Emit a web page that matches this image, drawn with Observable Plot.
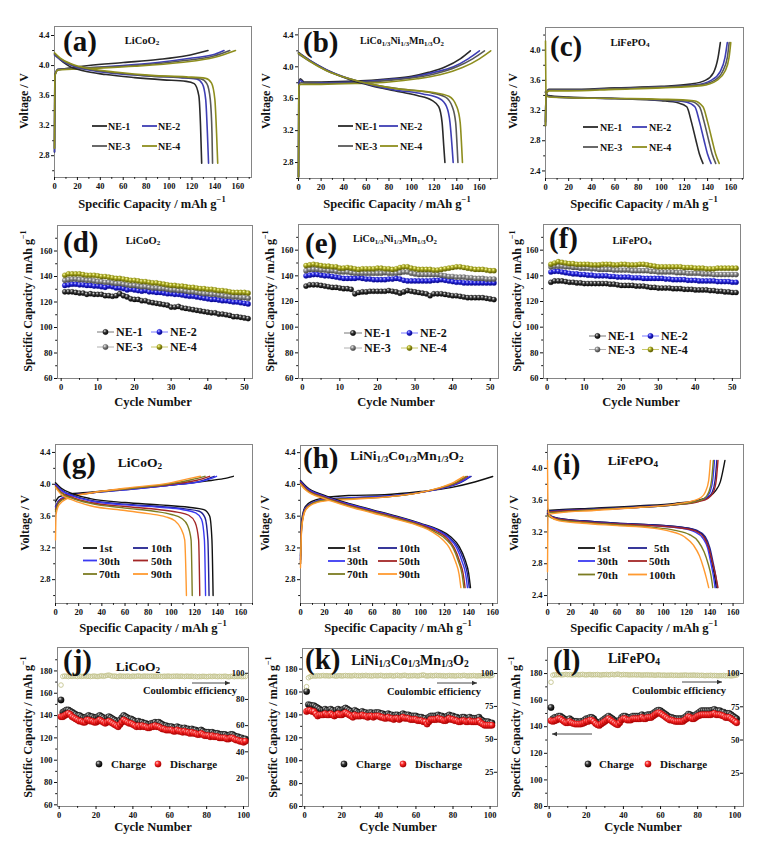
<!DOCTYPE html>
<html><head><meta charset="utf-8">
<script src="https://cdn.jsdelivr.net/npm/d3@7"></script>
<script src="https://cdn.jsdelivr.net/npm/@observablehq/plot@0.6"></script>
<style>
html,body{margin:0;padding:0;background:#fff;}
#root{position:relative;width:759px;height:848px;overflow:hidden;background:#fff;}
#root svg{position:absolute;}
</style></head><body><div id="root"></div>
<script>
// ---------------- DATA ----------------
const NE_LABELS = ["NE-1","NE-2","NE-3","NE-4"];
const G_LABELS = ["1st","10th","30th","50th","70th","90th"];
const I_LABELS = ["1st","5th","30th","50th","70th","100th"];
const VOLT_TICKS_A = [2.8,3.2,3.6,4.0,4.4];
const VOLT_TICKS_C = [2.4,2.8,3.2,3.6,4.0];
const CAP_TICKS = [0,20,40,60,80,100,120,140,160];
const CYC50_TICKS = [0,10,20,30,40,50];
const CYC100_TICKS = [0,20,40,60,80,100];
const SPEC_TICKS = [60,80,100,120,140,160];
const SPEC_TICKS_J = [60,80,100,120,140,160,180];
const SPEC_TICKS_L = [80,100,120,140,160,180];
const CE_TICKS_J = [20,40,60,80,100];
const CE_TICKS_KL = [25,50,75,100];

// (a) LiCoO2 voltage profiles [capacity, voltage]
const a_ch_NE1 = [[0,2.85],[0.3,3.86],[3,3.94],[10,3.96],[30,4.0],[60,4.04],[90,4.08],[115,4.13],[134,4.2]];
const a_ch_NE2 = [[0,2.85],[0.3,3.87],[3,3.95],[20,3.96],[50,3.99],[90,4.04],[120,4.1],[140,4.15],[148,4.2]];
const a_ch_NE3 = [[0,2.9],[0.3,3.87],[3,3.95],[30,3.97],[70,4.0],[110,4.06],[140,4.13],[153,4.2]];
const a_ch_NE4 = [[0,2.9],[0.3,3.86],[3,3.94],[30,3.96],[70,3.99],[110,4.04],[140,4.11],[158,4.2]];
const a_dis_NE1 = [[0,4.16],[5,4.08],[12,4.0],[25,3.93],[45,3.88],[70,3.84],[95,3.81],[115,3.79],[122,3.76],[126,3.6],[127.5,3.2],[128.5,2.7]];
const a_dis_NE2 = [[0,4.14],[5,4.08],[15,4.0],[30,3.94],[55,3.89],[85,3.86],[110,3.84],[124,3.82],[129,3.76],[132,3.55],[133.5,3.1],[134.5,2.7]];
const a_dis_NE3 = [[0,4.15],[5,4.09],[15,4.01],[30,3.95],[55,3.9],[85,3.86],[115,3.84],[128,3.82],[133,3.76],[136,3.55],[137.5,3.1],[138,2.7]];
const a_dis_NE4 = [[0,4.17],[5,4.1],[15,4.02],[30,3.96],[55,3.91],[85,3.87],[115,3.85],[132,3.83],[137,3.77],[140,3.55],[141.5,3.1],[142.5,2.7]];

// (b) LiCo1/3Ni1/3Mn1/3O2
const b_ch_NE1 = [[0,2.62],[0.3,3.78],[1.5,3.85],[5,3.81],[20,3.81],[50,3.82],[80,3.85],[100,3.88],[115,3.93],[130,4.0],[143,4.1],[152,4.2]];
const b_ch_NE2 = [[0,2.62],[0.3,3.78],[1.5,3.83],[5,3.8],[20,3.8],[50,3.81],[80,3.84],[100,3.87],[120,3.93],[137,4.0],[150,4.1],[160,4.2]];
const b_ch_NE3 = [[0,2.62],[0.3,3.77],[2,3.8],[20,3.79],[50,3.8],[80,3.83],[100,3.86],[120,3.91],[140,4.0],[154,4.1],[164.5,4.2]];
const b_ch_NE4 = [[0,2.62],[0.3,3.76],[2,3.78],[20,3.78],[50,3.79],[80,3.81],[105,3.85],[125,3.9],[145,3.99],[160,4.1],[170,4.2]];
const b_dis_NE1 = [[0,4.18],[10,4.08],[25,3.96],[45,3.84],[65,3.76],[85,3.7],[105,3.64],[118,3.58],[124,3.5],[127,3.3],[128.5,3.0],[129.5,2.8]];
const b_dis_NE2 = [[0,4.17],[10,4.08],[25,3.96],[45,3.85],[65,3.77],[85,3.71],[110,3.66],[125,3.6],[131,3.5],[134,3.3],[135.8,3.0],[136.8,2.8]];
const b_dis_NE3 = [[0,4.16],[10,4.07],[25,3.95],[45,3.85],[65,3.78],[90,3.72],[115,3.68],[130,3.62],[136,3.5],[139,3.3],[140.3,3.0],[141,2.8]];
const b_dis_NE4 = [[0,4.17],[10,4.07],[25,3.95],[45,3.85],[65,3.78],[90,3.72],[118,3.68],[133,3.63],[140,3.5],[143,3.3],[144.3,3.0],[145,2.8]];

// (c) LiFePO4
const c_ch_NE1 = [[0,3.05],[0.5,3.42],[3,3.48],[20,3.48],[60,3.5],[100,3.52],[125,3.55],[138,3.6],[145,3.7],[149,3.9],[151,4.1]];
const c_ch_NE2 = [[0,3.0],[0.5,3.42],[3,3.47],[20,3.47],[60,3.49],[100,3.51],[130,3.54],[143,3.6],[151,3.72],[155,3.9],[157,4.1]];
const c_ch_NE3 = [[0,3.0],[0.5,3.42],[3,3.47],[20,3.47],[60,3.49],[100,3.51],[133,3.54],[146,3.6],[153,3.72],[157,3.9],[158.6,4.1]];
const c_ch_NE4 = [[0,3.0],[0.5,3.42],[3,3.46],[20,3.46],[60,3.48],[100,3.5],[135,3.53],[148,3.6],[155,3.72],[158.5,3.9],[160,4.1]];
const c_dis_NE1 = [[0,3.45],[2,3.4],[20,3.38],[60,3.36],[100,3.33],[115,3.3],[122,3.25],[126,3.05],[130,2.8],[133,2.62],[136,2.5]];
const c_dis_NE2 = [[0,3.44],[2,3.39],[20,3.37],[60,3.36],[100,3.34],[122,3.31],[129,3.25],[133,3.05],[137,2.8],[140,2.62],[143,2.5]];
const c_dis_NE3 = [[0,3.44],[2,3.39],[20,3.37],[60,3.36],[100,3.34],[126,3.32],[133,3.25],[137,3.05],[141,2.8],[144,2.62],[147,2.5]];
const c_dis_NE4 = [[0,4.12],[0.5,3.4],[3,3.38],[20,3.37],[60,3.36],[100,3.35],[128,3.33],[136,3.25],[140,3.05],[144,2.8],[147,2.62],[150,2.5]];

// (d) LiCoO2 cycling, cycles 1..51
const d_NE1 = [128,128,128,127.5,127,127,126,126.5,126,126,126,125,125,124.5,125,126.5,125,124,122.5,122,122,121,121,120,119.5,119,118.5,118,117.5,116,116,116.5,115.5,115,114.5,114,113.5,113,112.5,112,111.5,111.5,110.5,110.5,110,109.5,108.5,108.5,108,107.5,107];
const d_NE2 = [133,133.5,134,134,133.5,133.5,133,133,132.5,132.5,132,131.5,132.5,132,131,131,130.5,129.5,130,129.5,129,128.5,129,128,128,127.5,127.5,127,126.5,126.5,126,126,125.5,125,124.5,124.5,124,123.5,123,122.5,122,122,121.5,121,121,120.5,120,120,119.5,119,118.5];
const d_NE3 = [137,137.5,138,138,137.5,137.5,137,137,136.5,136,136,135.5,135.5,135,134.5,134.5,134,133.5,133,133,132.5,132,132,131.5,131,131,130.5,130.5,130,129.5,129.5,129,129,128.5,128,128,127.5,127,126.5,126.5,126,126,125.5,125,124.5,124.5,124,124,123.5,123.5,123];
const d_NE4 = [141,142,142,142,142,141.5,141,141,141,140.5,140,140,139.5,139,138.5,138.5,138,137.5,137,137,136.5,136,136,135.5,135,135,134.5,134,133.5,133,133,132.5,132.5,132,131.5,131.5,131,130.5,130.5,130,130,129.5,129,129,128.5,128,127.5,127.5,127.5,127.5,127];

// (e) NCM cycling
const e_NE1 = [132,133,133,133,132.5,132,131.5,131,131,130.5,130,130,129.5,126,127,127.5,127.5,128,128,128,128,128,128.5,128,127.5,126.5,127.5,128.5,128,127.5,127,126.5,126,124.5,126,126,126,125.5,125,124.5,124.5,124,123.5,123,123,123,123,123,122.5,122,121.5];
const e_NE2 = [140,140.5,141,141,140.5,140,140,139.5,139,138.5,138,138,138,138,138.5,138,137.5,137.5,137,137,137,137,137.5,137.5,138,137.5,136.5,136,136,136,136,136,136,136,136.5,136.5,137,136.5,136,135.5,135,135,134.5,134.5,134.5,134.5,134.5,134.5,134.5,134.5,134.5];
const e_NE3 = [144,145,145,145,144.5,144.5,144,144,143.5,143,143,143,142.5,142,142,142,142,142,142,142,142,142.5,142,142,142,142.5,143,143,142,141.5,141,141,141,141,141,141,140.5,140,139.5,139.5,139,139,139,138.5,138.5,138,138,138,137.5,137.5,137.5];
const e_NE4 = [148,148.5,149,148.5,148,147.5,147.5,147,147,146,146,146.5,146,145.5,145,145.5,145.5,145.5,145.5,146,146,145.5,145.5,145,145.5,146.5,147,147,146,145.5,145,145,145,145,144.5,144.5,145,145.5,146,146.5,147,147,146.5,146,145.5,145,145,145,144.5,144,144];

// (f) LiFePO4 cycling
const f_NE1 = [135,136,136,136,135.5,135,135,134.5,134.5,134,134,134,134,134,134,134,133.5,133.5,133,132.5,132.5,132.5,132.5,132,132,132,131.5,131,131,130.5,130.5,130.5,130.5,130,130,130,129.5,129.5,129.5,129,129,129,129,128.5,128.5,128,128,127.5,127.5,127,127];
const f_NE2 = [143,143.5,143.5,143,142.5,142,141.5,141.5,141,141,140.5,140.5,140,140,140,140,139.5,139.5,139,139,139,139,138.5,138.5,138.5,138,138,138,138,138,138,137.5,137.5,137,137,137,137,136.5,136.5,136.5,136,136,136,136,136,135.5,135.5,135.5,135.5,135,135];
const f_NE3 = [147,147.5,147.5,147.5,147,147,146.5,146.5,146,146,146,145.5,145.5,145,145,145,145,144.5,144.5,144.5,144.5,144.5,144,144,144,144,144,143.5,143.5,143,143,143,143,143,142.5,142.5,142.5,142,142,142,142,141.5,141.5,141.5,141,141,141,141,141,141,141];
const f_NE4 = [149,150,151,150.5,150,149.5,149.5,149,149,149,149,148.5,148.5,148.5,149,149,149,148.5,148.5,149,149,148.5,148.5,148.5,149,149,148.5,148,147.5,147,147,147,147,147,147,147,146.5,146.5,146.5,146,146,146,145.5,145.5,145.5,146,146,146,146,146,146];

// (g) LiCoO2 selected cycles
const g_ch_1 = [[0,3.78],[3,3.84],[10,3.87],[30,3.9],[60,3.94],[100,3.99],[130,4.04],[145,4.07],[153.5,4.1]];
const g_ch_10 = [[0,3.72],[3,3.8],[10,3.85],[30,3.89],[60,3.93],[100,3.99],[125,4.04],[137,4.1]];
const g_ch_30 = [[0,3.7],[3,3.79],[10,3.85],[30,3.89],[60,3.93],[100,3.99],[127,4.04],[139,4.1]];
const g_ch_50 = [[0,3.68],[3,3.78],[10,3.84],[30,3.89],[60,3.94],[100,4.0],[122,4.05],[133,4.1]];
const g_ch_70 = [[0,3.66],[3,3.77],[10,3.83],[30,3.89],[60,3.94],[100,4.01],[118,4.06],[129,4.1]];
const g_ch_90 = [[0,3.3],[0.5,3.62],[3,3.74],[10,3.82],[30,3.89],[60,3.95],[100,4.02],[115,4.07],[125,4.1]];
const g_dis_1 = [[0,4.02],[5,3.95],[15,3.88],[30,3.82],[60,3.77],[90,3.74],[115,3.71],[128,3.68],[133,3.6],[135,3.3],[136,2.6]];
const g_dis_10 = [[0,4.0],[5,3.93],[15,3.86],[30,3.8],[60,3.75],[90,3.72],[112,3.69],[124,3.66],[129,3.58],[131.5,3.3],[132.5,2.6]];
const g_dis_30 = [[0,3.99],[5,3.92],[15,3.85],[30,3.79],[60,3.74],[90,3.71],[110,3.68],[121,3.64],[126,3.56],[128.5,3.3],[129.5,2.6]];
const g_dis_50 = [[0,3.98],[5,3.9],[15,3.83],[30,3.77],[60,3.72],[90,3.68],[105,3.65],[115,3.61],[120.5,3.52],[123.5,3.3],[124.5,2.6]];
const g_dis_70 = [[0,3.97],[5,3.89],[15,3.82],[30,3.76],[60,3.7],[85,3.66],[100,3.62],[109,3.57],[114,3.48],[117,3.3],[118,2.6]];
const g_dis_90 = [[0,3.96],[5,3.87],[15,3.8],[30,3.73],[60,3.67],[80,3.63],[95,3.59],[103,3.54],[108,3.45],[111.5,3.3],[113,2.6]];

// (h) LiNi1/3Co1/3Mn1/3O2 selected cycles
const h_ch_1 = [[0,3.1],[1,3.55],[4,3.72],[10,3.79],[20,3.83],[40,3.86],[70,3.87],[100,3.91],[125,3.96],[145,4.03],[160,4.1]];
const h_ch_10 = [[0,3.05],[1,3.5],[4,3.7],[10,3.77],[20,3.81],[40,3.83],[70,3.85],[100,3.9],[120,3.96],[134,4.03],[142,4.1]];
const h_ch_30 = [[0,3.05],[1,3.5],[4,3.7],[10,3.77],[20,3.81],[40,3.83],[70,3.85],[100,3.9],[120,3.96],[133,4.03],[141,4.1]];
const h_ch_50 = [[0,3.0],[1,3.48],[4,3.69],[10,3.76],[20,3.8],[40,3.82],[70,3.84],[100,3.9],[118,3.96],[131,4.03],[139,4.1]];
const h_ch_70 = [[0,3.0],[1,3.47],[4,3.68],[10,3.76],[20,3.8],[40,3.82],[70,3.84],[100,3.9],[117,3.96],[130,4.03],[138,4.1]];
const h_ch_90 = [[0,2.95],[1,3.45],[4,3.67],[10,3.75],[20,3.79],[40,3.81],[70,3.84],[100,3.9],[116,3.96],[128,4.03],[136,4.1]];
const h_dis_1 = [[0,4.05],[5,3.97],[20,3.86],[40,3.76],[60,3.68],[80,3.6],[100,3.51],[115,3.43],[125,3.34],[132,3.22],[137,3.05],[140,2.88],[141.5,2.7]];
const h_dis_10 = [[0,4.04],[5,3.96],[20,3.85],[40,3.75],[60,3.67],[80,3.59],[100,3.5],[115,3.42],[124,3.33],[131,3.21],[136,3.04],[139,2.87],[140.5,2.7]];
const h_dis_30 = [[0,4.03],[5,3.95],[20,3.85],[40,3.75],[60,3.67],[80,3.59],[100,3.5],[114,3.42],[123,3.33],[130,3.2],[134.5,3.03],[137.5,2.87],[139,2.7]];
const h_dis_50 = [[0,4.02],[5,3.94],[20,3.84],[40,3.74],[60,3.66],[80,3.58],[100,3.49],[113,3.41],[122,3.32],[128,3.2],[132.5,3.03],[135.5,2.87],[137,2.7]];
const h_dis_70 = [[0,4.01],[5,3.93],[20,3.83],[40,3.73],[60,3.65],[80,3.57],[100,3.48],[112,3.4],[121,3.31],[127,3.2],[131.5,3.03],[134.5,2.87],[136,2.7]];
const h_dis_90 = [[0,4.0],[5,3.92],[20,3.82],[40,3.72],[60,3.64],[80,3.56],[100,3.47],[110,3.4],[118,3.31],[124,3.2],[129,3.03],[132,2.87],[133.5,2.7]];

// (i) LiFePO4 selected cycles
const i_ch_1 = [[0,3.47],[10,3.48],[40,3.5],[80,3.53],[110,3.56],[130,3.6],[140,3.65],[145,3.72],[149,3.83],[153,4.1]];
const i_ch_5 = [[0,3.46],[10,3.47],[40,3.49],[80,3.52],[110,3.55],[130,3.59],[138,3.63],[142,3.7],[144.5,3.85],[146,4.1]];
const i_ch_30 = [[0,3.45],[10,3.46],[40,3.48],[80,3.51],[110,3.54],[128,3.58],[136,3.62],[140,3.7],[142.5,3.85],[144,4.1]];
const i_ch_50 = [[0,3.45],[10,3.46],[40,3.48],[80,3.51],[110,3.54],[130,3.58],[138,3.62],[143,3.7],[145.5,3.85],[147,4.1]];
const i_ch_70 = [[0,3.44],[10,3.45],[40,3.48],[80,3.51],[110,3.54],[127,3.58],[135,3.62],[139,3.7],[141.5,3.85],[143,4.1]];
const i_ch_100 = [[0,2.7],[0.5,3.4],[2,3.42],[10,3.44],[40,3.47],[80,3.51],[110,3.55],[125,3.59],[132,3.63],[136,3.7],[139,3.85],[140.5,4.1]];
const i_dis_1 = [[0,3.43],[3,3.4],[10,3.37],[30,3.34],[60,3.31],[90,3.29],[115,3.26],[128,3.22],[135,3.14],[139,3.0],[142,2.8],[144,2.65],[145.5,2.5]];
const i_dis_5 = [[0,3.43],[3,3.4],[10,3.37],[30,3.34],[60,3.31],[90,3.29],[116,3.26],[129,3.22],[136,3.14],[140,3.0],[143,2.8],[145,2.65],[146.5,2.5]];
const i_dis_30 = [[0,3.42],[3,3.39],[10,3.36],[30,3.33],[60,3.3],[90,3.28],[114,3.25],[127,3.2],[134,3.12],[138,3.0],[141,2.8],[143,2.65],[144.5,2.5]];
const i_dis_50 = [[0,3.42],[3,3.39],[10,3.36],[30,3.33],[60,3.3],[90,3.28],[115,3.25],[128,3.21],[135,3.13],[139,3.0],[142.5,2.8],[145,2.65],[147,2.5]];
const i_dis_70 = [[0,3.41],[3,3.38],[10,3.35],[30,3.32],[60,3.29],[90,3.26],[110,3.22],[122,3.17],[130,3.08],[135,2.95],[138.5,2.8],[141,2.65],[142.5,2.5]];
const i_dis_100 = [[0,4.1],[0.5,3.5],[2,3.4],[10,3.34],[30,3.31],[60,3.28],[90,3.25],[105,3.21],[118,3.14],[126,3.03],[131,2.9],[134.5,2.75],[137,2.62],[139,2.5]];

// (j) LiCoO2 long cycling, cycles 1..101
const j_charge = [154,143,144,145,145,144,143,142,141,140,140,139,138,138,139,140,139,139,138,138,139,140,139,138,137,138,139,138,137,136,135,134,136,138,140,139,138,137,137,136,135,134,135,134,134,133,133,132,132,133,133,134,133,134,133,132,131,131,130,130,130,129,129,130,129,129,128,129,128,128,127,128,127,127,126,126,127,126,125,125,125,124,125,124,124,124,123,123,123,123,122,122,123,123,122,121,121,120,120,119,119];
const j_discharge = [139,139,140,141,142,141,139,138,137,136,135,135,134,134,136,136,135,135,134,134,135,136,135,134,133,134,135,134,133,132,131,130,132,134,136,135,134,133,133,132,131,130,131,130,131,130,130,129,129,130,130,131,130,130,129,128,128,127,127,127,127,126,126,127,126,126,125,126,125,125,124,125,124,124,123,123,124,123,122,122,122,121,122,121,121,121,120,120,120,120,119,119,120,120,119,118,118,117,117,116,117];
const j_ce = [91.0,97.6,97.9,97.7,97.5,97.8,97.6,97.9,97.7,97.5,97.8,97.6,97.7,98.0,97.6,97.8,97.5,97.7,97.9,97.6,97.5,97.8,98.1,97.7,98.0,98.4,98.6,98.1,97.7,97.9,97.6,97.5,98.0,97.7,97.8,97.6,97.9,97.7,97.5,97.9,97.6,97.8,98.0,97.7,97.6,97.9,97.7,97.8,97.6,97.9,97.7,97.8,97.6,97.9,97.7,97.5,97.8,97.6,97.9,97.7,97.6,97.8,97.7,97.9,97.6,97.8,97.7,97.5,97.8,97.7,97.6,97.8,97.4,97.7,97.3,97.6,97.5,97.7,97.6,97.4,97.6,97.7,97.5,97.8,97.6,97.4,97.7,97.5,97.6,97.8,97.5,97.3,97.6,97.7,97.4,97.6,97.5,97.7,97.4,97.6,97.5];

// (k) NCM long cycling
const k_charge = [160.5,149,148.5,148,148,147,146,145,144,144,145,144,144,145,144,143,144,145,144,144,145,146,145,144,143,142,144,143,142,142,143,142,142,141,142,142,141,142,142,142,141,141,140,140,141,140,140,139,140,140,139,140,141,140,140,140,139,139,139,139,138,138,138,137,137,136,138,139,139,139,139,140,139,139,138,138,139,140,139,139,138,138,137,137,138,138,137,137,138,137,137,137,137,138,136,135,134,134,134,133,133];
const k_discharge = [143,144,144,143,143,141,139,140,140,140,141,140,140,141,140,139,140,141,140,140,141,142,141,140,139,138,140,139,139,139,140,139,139,138,139,139,138,139,139,139,138,138,137,137,138,137,137,136,137,137,136,137,138,137,137,137,136,136,136,136,135,135,135,134,134,132,134,136,136,136,136,137,136,136,135,135,136,137,136,136,135,135,134,134,135,135,134,134,135,134,134,134,134,135,133,132,131,131,131,131,131];
const k_ce = [90.0,96.8,97.6,98.0,98.2,98.0,98.4,98.1,98.3,98.5,98.2,98.4,98.1,98.3,98.5,98.2,98.0,98.3,98.4,98.1,98.3,98.5,98.2,98.4,98.1,98.3,98.6,98.2,98.4,98.1,98.5,98.3,98.6,98.2,98.4,98.1,98.3,98.5,98.2,98.4,98.6,98.3,98.1,98.4,98.2,98.5,98.3,98.1,98.4,98.6,98.3,98.2,98.5,98.7,98.3,98.1,98.4,98.2,98.5,98.3,98.1,98.4,98.6,98.9,98.4,98.1,98.3,98.5,98.2,98.4,98.6,98.3,98.5,98.2,98.4,98.1,98.3,98.5,98.2,98.4,98.1,98.3,98.5,98.2,98.4,98.6,98.3,98.1,98.4,98.2,98.5,98.3,98.1,98.4,98.2,98.5,98.3,98.6,98.4,98.2,98.5];

// (l) LiFePO4 long cycling
const l_charge = [154.5,146,147,147,148,148,147,146,145,145,146,145,144,144,144,143.5,144,144,145,146,146,147,147,146,144,143,142.5,144,145,146,147,148,147,146,145,144,143.5,145,147,148,148,147,147,147,148,148,148,148,148,149,148,148,149,149,149,150,151,152,152.5,152,151,150,149,148,147,147,146.5,146,146,146,146,146,147,148,149.5,149,148,148,149,150,151,152,152,152,152,152,152,152.5,153,152,152,152,151,151,150,150,150,149,148,147,146];
const l_discharge = [144.5,144,144.5,145,146,146,145,144,143,143,144,143,142.5,142,142,142,142,142.5,143,144,144,145,145,144,142.5,141.5,141,142,143,144,145,146,145,144,143,142,141.5,143,145,146,146,145,145,145,146,146,146,146,146,147,146,146,147,147,147,148,149,150,150.5,150,149,148,147,146,145,145,144.5,144,144,144,144,144,145,146,147.5,147,146,146,147,148,148.5,149,149,149,149,149,149,149.5,150,149,149,149,148.5,148,147,147,147,146,145,144,143];
const l_ce = [93.5,98.8,99.2,99.0,99.3,99.1,99.0,99.2,99.4,99.1,99.3,99.0,99.2,99.1,99.3,99.0,99.2,99.4,99.1,99.0,99.2,99.3,99.0,99.2,99.1,99.3,99.0,98.9,99.2,99.1,99.3,99.0,99.2,99.4,99.1,99.3,99.6,99.2,99.0,99.3,99.1,99.2,98.9,99.1,99.0,99.2,98.9,99.1,99.0,98.8,99.0,98.9,99.1,98.8,99.0,98.9,98.7,98.9,99.0,98.8,98.7,98.9,98.6,98.8,98.7,98.9,98.6,98.8,98.7,98.6,98.8,98.7,98.9,98.8,98.6,98.8,98.7,98.9,98.6,98.8,98.5,98.7,98.6,98.4,98.6,98.5,98.7,98.4,98.6,98.5,98.3,98.5,98.4,98.6,98.3,98.5,98.4,98.2,98.4,98.6,98.8];

// ---------------- STYLE / LAYOUT ----------------
const SERIF = "'Liberation Serif','Times New Roman',serif";
const NE_COLORS = ["#2a2a2a","#3e3eb4","#585858","#8e8e1e"];
const NE_DOT = ["#111111","#1c1cd8","#6e6e6e","#9d9d18"];
const NE_LINE = ["#777777","#7a7aff","#b0b0b0","#c8c86a"];
const NE_GRAD = ["gBlack","gBlue","gGray","gOlive"];
const CYC_COLORS = ["#111111","#22228f","#3a3af2","#a32626","#7c7c22","#ff9a30"];
const root = d3.select("#root");
const M = {l: 36, r: 30, t: 8, b: 20};
const BASE_STYLE = {fontFamily: SERIF, fontSize: "8.5px", fontWeight: "bold", color: "#111", background: "transparent", overflow: "visible"};
const HAS_AXIS = typeof Plot.axisX === "function" && typeof Plot.axisY === "function";

function place(svg, left, top) {
  svg.style.position = "absolute";
  svg.style.left = left + "px";
  svg.style.top = top + "px";
  root.node().appendChild(svg);
}
function dims(fr) {
  const [x0,y0,x1,y1] = fr;
  return {width: x1-x0+M.l+M.r, height: y1-y0+M.t+M.b, marginLeft: M.l, marginRight: M.r, marginTop: M.t, marginBottom: M.b};
}
function minorOf(ticks, domain) {
  const step = ticks[1] - ticks[0], out = [];
  const lo = Math.min(...domain), hi = Math.max(...domain);
  for (let v = ticks[0] - step/2; v <= hi + 1e-9; v += step) if (v >= lo - 1e-9) out.push(+v.toFixed(4));
  return out;
}
function panel(fr, x, y, marks) {
  const axisMarks = [];
  let xo = {tickSize: 3, tickPadding: 2, label: null, ...x};
  let yo = {tickSize: 3, tickPadding: 2, label: null, ...y};
  if (HAS_AXIS) {
    axisMarks.push(
      Plot.axisX({ticks: x.ticks, tickSize: 3, tickPadding: 2, label: null, ...(x.tickFormat ? {tickFormat: x.tickFormat} : {})}),
      Plot.axisX({ticks: minorOf(x.ticks, x.domain), tickSize: 1.8, tickFormat: () => "", label: null}),
      Plot.axisY({ticks: y.ticks, tickSize: 3, tickPadding: 2, label: null, ...(y.tickFormat ? {tickFormat: y.tickFormat} : {})}),
      Plot.axisY({ticks: minorOf(y.ticks, y.domain), tickSize: 1.8, tickFormat: () => "", label: null})
    );
    xo = {domain: x.domain}; yo = {domain: y.domain};
  }
  const svg = Plot.plot({...dims(fr), style: BASE_STYLE, x: xo, y: yo,
    marks: [Plot.frame({stroke: "#858585"}), ...axisMarks, ...marks]});
  place(svg, fr[0]-M.l, fr[1]-M.t);
}
// Coulombic efficiency series on its own (right-hand) scale, labels drawn just inside the right frame edge
function rightAxis(fr, xd, yd, ticks, ce) {
  const svg = Plot.plot({...dims(fr), style: BASE_STYLE,
    x: {domain: xd, axis: null}, y: {domain: yd, axis: null},
    marks: [Plot.dot(ce, {x: (d,i) => i+1, y: d => d, r: 2.3, fill: "none", stroke: "#c4c48e", strokeWidth: 0.9})]});
  place(svg, fr[0]-M.l, fr[1]-M.t);
  const fa = [fr[2], fr[1], fr[2]+4, fr[3]];
  const ax = Plot.plot({...dims(fa), style: BASE_STYLE,
    x: {domain: [0, 1], axis: null},
    y: {domain: yd, ticks, axis: "left", tickSize: 3, tickPadding: 1, label: null},
    marks: [Plot.dot(ticks, {x: () => 0, y: d => d, r: 0, fill: "none"})]});
  place(ax, fa[0]-M.l, fa[1]-M.t);
}
const f1 = d3.format(".1f");
function voltage(fr, xd, yd, yt, charges, discharges, colors, sw) {
  const marks = [];
  charges.forEach((c,k) => marks.push(Plot.line(c, {x: d=>d[0], y: d=>d[1], stroke: colors[k], strokeWidth: sw, curve: "monotone-x"})));
  discharges.forEach((c,k) => marks.push(Plot.line(c, {x: d=>d[0], y: d=>d[1], stroke: colors[k], strokeWidth: sw, curve: "monotone-x"})));
  panel(fr, {domain: xd, ticks: CAP_TICKS}, {domain: yd, ticks: yt, tickFormat: f1}, marks);
}
function cycling(fr, series) {
  const marks = [];
  series.forEach((s,k) => {
    marks.push(Plot.line(s, {x: (d,i)=>i+1, y: d=>d, stroke: NE_LINE[k], strokeWidth: 0.8}));
    marks.push(Plot.dot(s, {x: (d,i)=>i+1, y: d=>d, r: 2.6, fill: `url(#${NE_GRAD[k]})`, stroke: NE_DOT[k], strokeWidth: 0.3}));
  });
  panel(fr, {domain: [-1, 52.2], ticks: CYC50_TICKS}, {domain: [60, 180], ticks: SPEC_TICKS}, marks);
}
function longCycle(fr, xd, yd, yt, ch, dis) {
  panel(fr, {domain: xd, ticks: CYC100_TICKS}, {domain: yd, ticks: yt}, [
    Plot.dot(ch, {x: (d,i)=>i+1, y: d=>d, r: 3.2, fill: "url(#gBlack)", stroke: "#000", strokeWidth: 0.3}),
    Plot.dot(dis, {x: (d,i)=>i+1, y: d=>d, r: 3.2, fill: "url(#gRed)", stroke: "#c00000", strokeWidth: 0.3})
  ]);
}

// frames [x0, y0, x1, y1]
const FR = {
  a: [54,26,251,177], b: [298,28,497,178], c: [545,27,743,178],
  d: [57,225,252,378], e: [298,224,498,378], f: [543,224,740,378],
  g: [55,444,252,603], h: [300,445,497,603], i: [547,444,743,603],
  j: [57,647,248,806], k: [302,648,497,806], l: [547,647,743,806]
};

voltage(FR.a, [0,172], [2.51,4.52], VOLT_TICKS_A, [a_ch_NE1,a_ch_NE2,a_ch_NE3,a_ch_NE4], [a_dis_NE1,a_dis_NE2,a_dis_NE3,a_dis_NE4], NE_COLORS, 1.6);
voltage(FR.b, [0,176], [2.6,4.48], VOLT_TICKS_A, [b_ch_NE1,b_ch_NE2,b_ch_NE3,b_ch_NE4], [b_dis_NE1,b_dis_NE2,b_dis_NE3,b_dis_NE4], NE_COLORS, 1.6);
voltage(FR.c, [0,171], [2.3,4.3], VOLT_TICKS_C, [c_ch_NE1,c_ch_NE2,c_ch_NE3,c_ch_NE4], [c_dis_NE1,c_dis_NE2,c_dis_NE3,c_dis_NE4], NE_COLORS, 1.6);
cycling(FR.d, [d_NE1,d_NE2,d_NE3,d_NE4]);
cycling(FR.e, [e_NE1,e_NE2,e_NE3,e_NE4]);
cycling(FR.f, [f_NE1,f_NE2,f_NE3,f_NE4]);
voltage(FR.g, [0,170], [2.5,4.5], VOLT_TICKS_A, [g_ch_1,g_ch_10,g_ch_30,g_ch_50,g_ch_70,g_ch_90], [g_dis_1,g_dis_10,g_dis_30,g_dis_50,g_dis_70,g_dis_90], CYC_COLORS, 1.4);
voltage(FR.h, [0,164], [2.5,4.49], VOLT_TICKS_A, [h_ch_1,h_ch_10,h_ch_30,h_ch_50,h_ch_70,h_ch_90], [h_dis_1,h_dis_10,h_dis_30,h_dis_50,h_dis_70,h_dis_90], CYC_COLORS, 1.4);
voltage(FR.i, [0,169], [2.3,4.3], VOLT_TICKS_C, [i_ch_1,i_ch_5,i_ch_30,i_ch_50,i_ch_70,i_ch_100], [i_dis_1,i_dis_5,i_dis_30,i_dis_50,i_dis_70,i_dis_100], CYC_COLORS, 1.4);
longCycle(FR.j, [-0.9,102.7], [58.5,201], SPEC_TICKS_J, j_charge, j_discharge);
rightAxis(FR.j, [-0.9,102.7], [-1.8,119.7], CE_TICKS_J, j_ce);
longCycle(FR.k, [-1.2,104], [60,198], SPEC_TICKS_J, k_charge, k_discharge);
rightAxis(FR.k, [-1.2,104], [-1,119], CE_TICKS_KL, k_ce);
longCycle(FR.l, [-0.9,104.7], [80,199.6], SPEC_TICKS_L, l_charge, l_discharge);
rightAxis(FR.l, [-0.9,104.7], [0,119.6], CE_TICKS_KL, l_ce);

// ---------------- ANNOTATION OVERLAY ----------------
const over = root.append("svg").attr("width", 759).attr("height", 848)
  .style("left","0px").style("top","0px").style("pointer-events","none")
  .attr("font-family", SERIF).attr("font-weight", "bold").attr("fill", "#111");
const defs = over.append("defs");
function grad(id, c0, c1, c2) {
  const g = defs.append("radialGradient").attr("id", id).attr("cx","35%").attr("cy","32%").attr("r","70%");
  g.append("stop").attr("offset","0%").attr("stop-color", c0);
  g.append("stop").attr("offset","40%").attr("stop-color", c1);
  g.append("stop").attr("offset","100%").attr("stop-color", c2);
}
grad("gBlack", "#e8e8e8", "#3a3a3a", "#000000");
grad("gBlue", "#c8c8ff", "#2a2ae0", "#00006a");
grad("gGray", "#f4f4f4", "#8c8c8c", "#3a3a3a");
grad("gOlive", "#ffffb0", "#a8a820", "#4a4a00");
grad("gRed", "#ffd0d0", "#ff2a2a", "#a00000");

function rich(x, y, str, size, opt = {}) {
  const {anchor = "start", rotate = 0} = opt;
  const t = over.append("text").attr("font-size", size).attr("text-anchor", anchor)
    .attr("dominant-baseline", "central");
  if (rotate) t.attr("transform", `translate(${x},${y}) rotate(${rotate})`);
  else t.attr("x", x).attr("y", y);
  const parts = str.split(/(_\{[^}]*\}|\^\{[^}]*\})/).filter(p => p);
  let cur = 0;
  for (const p of parts) {
    let s = p, off = 0, fs = size;
    if (p.startsWith("_{")) { s = p.slice(2,-1); off = 0.3*size; fs = 0.68*size; }
    else if (p.startsWith("^{")) { s = p.slice(2,-1); off = -0.42*size; fs = 0.68*size; }
    t.append("tspan").attr("dy", off-cur).attr("font-size", fs).text(s);
    cur = off;
  }
  return t;
}
function lineSwatch(x1, x2, y, color, w) {
  over.append("line").attr("x1",x1).attr("x2",x2).attr("y1",y).attr("y2",y).attr("stroke",color).attr("stroke-width",w);
}
function dotSwatch(cx, cy, r, fillId, stroke) {
  over.append("circle").attr("cx",cx).attr("cy",cy).attr("r",r).attr("fill",`url(#${fillId})`).attr("stroke",stroke).attr("stroke-width",0.3);
}
function arrow(x1, x2, y) {
  lineSwatch(x1, x2, y, "#333", 0.9);
  const s = Math.sign(x2-x1);
  over.append("path").attr("d", `M${x2},${y}L${x2-5*s},${y-2.2}L${x2-5*s},${y+2.2}Z`).attr("fill","#333");
}

// panel letters and titles
const LETTERS = [["(a)",63,41],["(b)",303,42],["(c)",550,46],["(d)",63,242],["(e)",305,243],["(f)",549,238],
  ["(g)",62,463],["(h)",303,458],["(i)",553,464],["(j)",63,660],["(k)",305,659],["(l)",553,660]];
LETTERS.forEach(([s,x,y]) => rich(x, y, s, 29));
const TITLES = [["LiCoO_{2}",142,40,10.5],["LiCo_{1/3}Ni_{1/3}Mn_{1/3}O_{2}",402,40,10],["LiFePO_{4}",630,42,10.5],
  ["LiCoO_{2}",143,240,10.5],["LiCo_{1/3}Ni_{1/3}Mn_{1/3}O_{2}",395,238,10],["LiFePO_{4}",632,240,10.5],
  ["LiCoO_{2}",140,462,13.5],["LiNi_{1/3}Co_{1/3}Mn_{1/3}O_{2}",407,455,13.5],["LiFePO_{4}",633,460,13.5],
  ["LiCoO_{2}",138,666,13.5],["LiNi_{1/3}Co_{1/3}Mn_{1/3}O_{2}",410,660,14],["LiFePO_{4}",634,658,14]];
TITLES.forEach(([s,x,y,fs]) => rich(x, y, s, fs, {anchor: "middle"}));

// axis titles
const CAP_TITLE = "Specific Capacity / mAh g^{\u22121}";
[[24,101],[266,101],[513,101],[25,523],[265,523],[514,523]].forEach(([x,y]) => rich(x, y, "Voltage / V", 12, {anchor:"middle", rotate:-90}));
[[28,301],[270,301],[517,301],[28,727],[273,727],[516,727]].forEach(([x,y]) => rich(x, y, CAP_TITLE, 12, {anchor:"middle", rotate:-90}));
[[152,204],[397,204],[644,204],[153,628],[398,628],[644,628]].forEach(([x,y]) => rich(x, y, CAP_TITLE, 12.5, {anchor:"middle"}));
[[153,402],[396,402],[641,402],[153,827],[398,827],[643,827]].forEach(([x,y]) => rich(x, y, "Cycle Number", 12.5, {anchor:"middle"}));

// legends: NE voltage (a,b,c)
const NE_LEG = [
  [[92,107,126,108],[142,157,126,158],[92,107,146,108],[142,157,146,158]],
  [[338,353,126,355],[379,398,126,400],[338,353,146,355],[380,398,146,400]],
  [[583,598,127,600],[632,647,127,649],[583,598,147,600],[632,647,147,649]]
];
NE_LEG.forEach(items => items.forEach(([x1,x2,y,tx],k) => { lineSwatch(x1,x2,y,NE_COLORS[k],1.8); rich(tx,y,NE_LABELS[k],10); }));
// legends: NE cycling (d,e,f)
const NE_DOT_LEG = [
  [[97,114,332,116],[151,168,332,170],[97,114,347,116],[151,168,347,170]],
  [[344,362,333,364],[401,418,333,420],[344,362,348,364],[401,418,348,420]],
  [[589,606,336,608],[642,659,336,661],[589,606,349.5,608],[642,659,349.5,661]]
];
NE_DOT_LEG.forEach(items => items.forEach(([x1,x2,y,tx],k) => {
  lineSwatch(x1,x2,y,NE_LINE[k],1); dotSwatch((x1+x2)/2,y,2.7,NE_GRAD[k],NE_DOT[k]); rich(tx,y,NE_LABELS[k],12);
}));
// legends: selected cycles (g,h,i)
const CYC_LEG = [
  {labels: G_LABELS, rows: [548,560.5,574], c1: [83,97,99], c2: [133,148,151]},
  {labels: G_LABELS, rows: [548,561,574], c1: [328,345,347], c2: [378,397,399]},
  {labels: I_LABELS, rows: [548,561,574.5], c1: [578,595,597], c2: [628,647,649]}
];
CYC_LEG.forEach(({labels, rows, c1, c2}) => labels.forEach((lab,k) => {
  const c = k % 2 === 0 ? c1 : c2, y = rows[Math.floor(k/2)];
  lineSwatch(c[0], c[1], y, CYC_COLORS[k], 1.8);
  rich(lab === "5th" ? c[2]+5 : c[2], y, lab, 11);
}));
// legends: charge/discharge (j,k,l)
[[99,111,158,170],[344,356,403,415],[588,599,648,660]].forEach(([d1,t1,d2,t2]) => {
  dotSwatch(d1,764,3.2,"gBlack","#000"); rich(t1,764,"Charge",11);
  dotSwatch(d2,764,3.2,"gRed","#c00000"); rich(t2,764,"Discharge",11);
});
// Coulombic efficiency notes and arrows
[[190,690,192,230,683],[434,691,437,477,683],[679,690,682,722,682]].forEach(([tx,ty,a1,a2,ay]) => {
  rich(tx, ty, "Coulombic efficiency", 10.5, {anchor:"middle"});
  arrow(a1, a2, ay);
});
arrow(592, 552, 734);
</script></body></html>
